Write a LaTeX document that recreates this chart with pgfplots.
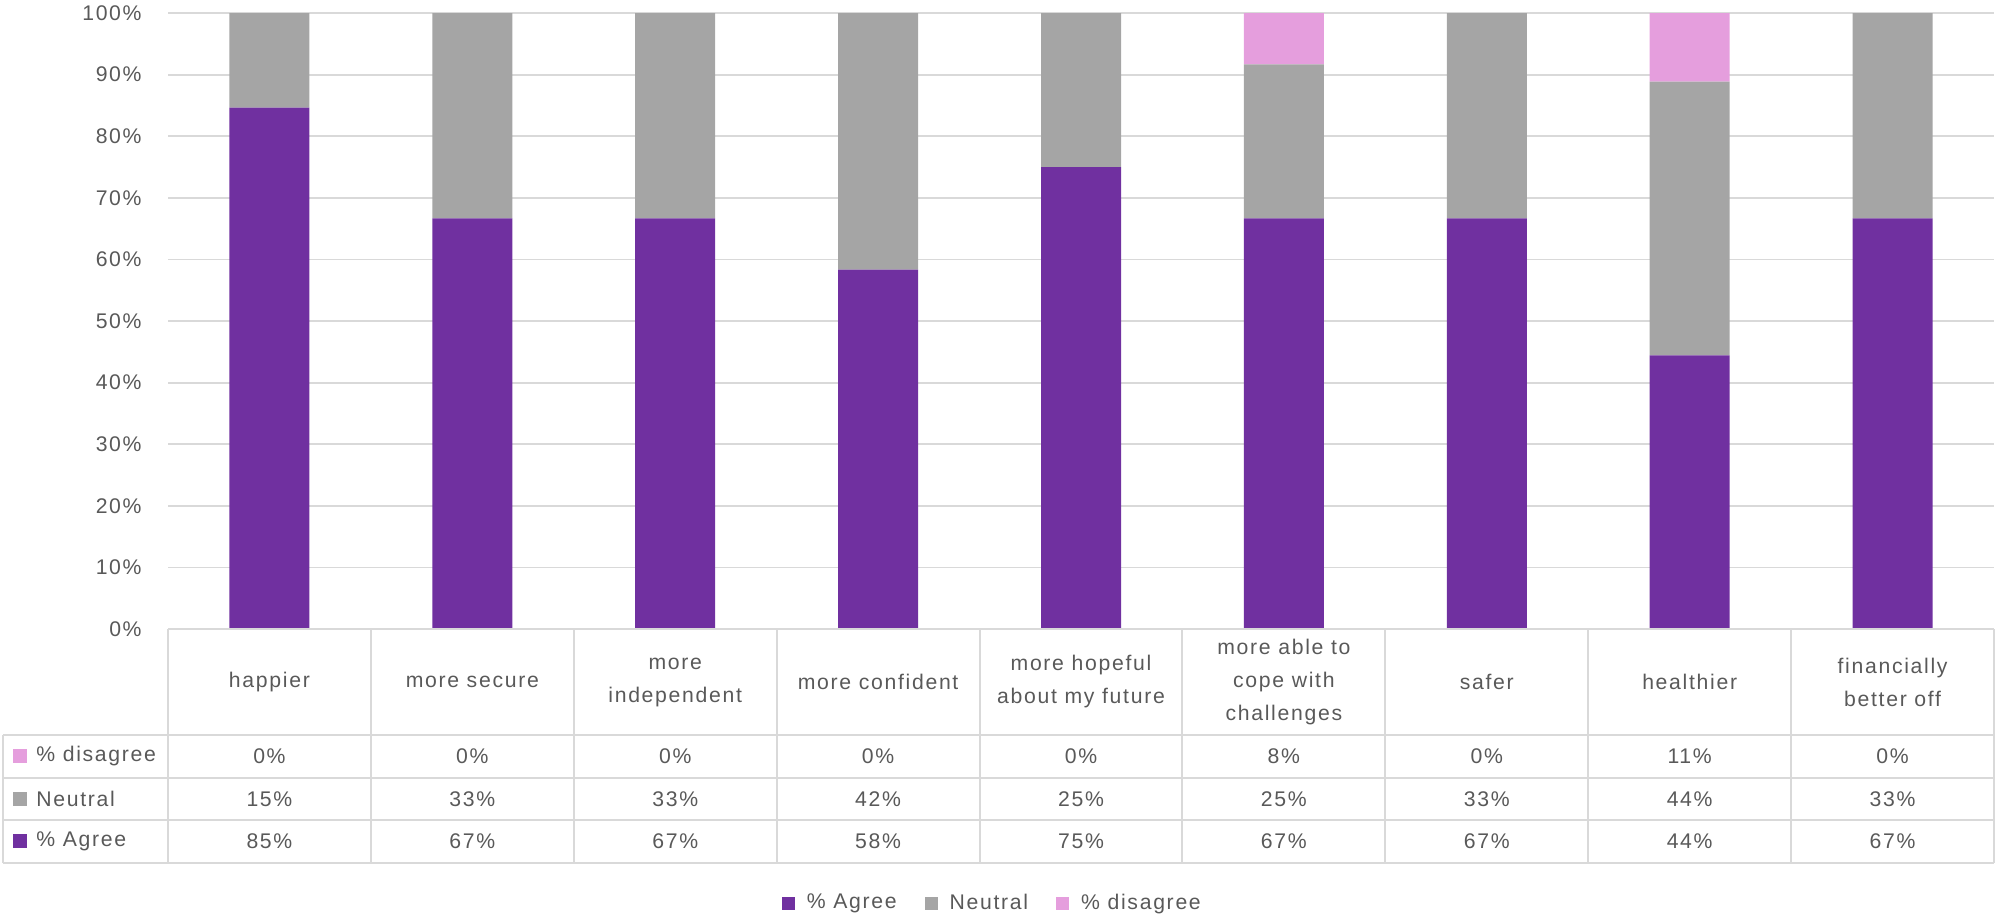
\documentclass[border=0pt]{standalone}
\usepackage{fontspec}
\setmainfont{Liberation Sans}[LetterSpace=8]
\usepackage{pgfplots}
\pgfplotsset{compat=1.18}
\definecolor{agree}{HTML}{7030A0}
\definecolor{neutral}{HTML}{A5A5A5}
\definecolor{disagree}{HTML}{E59EDD}
\definecolor{txt}{HTML}{595959}
\definecolor{gridc}{HTML}{D9D9D9}

\begin{document}
\begin{tikzpicture}[font=\fontsize{10.6}{16.5}\selectfont, text=txt]
\path[use as bounding box] (0,0) rectangle (998.5pt,459pt);
\begin{axis}[
  at={(84pt,144.5pt)}, anchor=south west,
  width=913pt, height=308pt, scale only axis,
  ybar stacked, bar width=40pt,
  xmin=-0.5, xmax=8.5, ymin=0, ymax=100,
  enlargelimits=false,
  axis line style={draw=none},
  xtick=\empty,
  ytick={0,10,...,100},
  yticklabels={0\%,10\%,20\%,30\%,40\%,50\%,60\%,70\%,80\%,90\%,100\%},
  major tick length=0pt,
  ymajorgrids, grid style={gridc, line width=0.9pt},
  yticklabel style={anchor=east, inner sep=0pt, xshift=-13pt, text=txt},
  legend style={at={(axis description cs:0.452,-0.4448)}, anchor=center,
    draw=none, fill=none, inner sep=0pt, text=txt,
    font=\fontsize{10.6}{12}\selectfont,
    /tikz/every odd column/.append style={column sep=4pt},
    /tikz/every even column/.append style={column sep=12pt}},
  legend columns=3,
  legend image code/.code={\fill[#1] (0pt,-3.25pt) rectangle (6.5pt,3.25pt);},
]
\addplot[fill=agree, draw=none] coordinates {(0,84.62) (1,66.67) (2,66.67) (3,58.33) (4,75) (5,66.67) (6,66.67) (7,44.44) (8,66.67)};
\addlegendentry{\% Agree}
\addplot[fill=neutral, draw=none] coordinates {(0,15.38) (1,33.33) (2,33.33) (3,41.67) (4,25) (5,25) (6,33.33) (7,44.44) (8,33.33)};
\addlegendentry{Neutral}
\addplot[fill=disagree, draw=none] coordinates {(0,0) (1,0) (2,0) (3,0) (4,0) (5,8.33) (6,0) (7,11.11) (8,0)};
\addlegendentry{\% disagree}
\end{axis}
\begin{scope}[x=0.5pt, y=-0.5pt, shift={(0pt,459pt)}]
  \draw[gridc, line width=1pt] (168,629) -- (1994,629);
  \foreach \yy in {735,777.5,820,862.5} \draw[gridc, line width=1pt] (3,\yy) -- (1994,\yy);
  \draw[gridc, line width=1pt] (3,735) -- (3,862.5);
  \foreach \k in {0,...,9} \draw[gridc, line width=1pt] ({168+202.89*\k},629) -- ({168+202.89*\k},862.5);
  \foreach \t [count=\i from 0] in {happier, more secure, {more\\independent}, more confident, {more hopeful\\about my future}, {more able to\\cope with\\challenges}, safer, healthier, {financially\\better off}}
    \node[align=center, inner sep=0pt] at ({168+202.89*(\i+0.5)},682) {\t};
  \foreach \v [count=\i from 0] in {0\%,0\%,0\%,0\%,0\%,8\%,0\%,11\%,0\%}
    \node[inner sep=0pt] at ({168+202.89*(\i+0.5)},756) {\v};
  \foreach \v [count=\i from 0] in {15\%,33\%,33\%,42\%,25\%,25\%,33\%,44\%,33\%}
    \node[inner sep=0pt] at ({168+202.89*(\i+0.5)},799) {\v};
  \foreach \v [count=\i from 0] in {85\%,67\%,67\%,58\%,75\%,67\%,67\%,44\%,67\%}
    \node[inner sep=0pt] at ({168+202.89*(\i+0.5)},841) {\v};
  \fill[disagree] (13,749) rectangle (27,763);
  \node[anchor=west, inner sep=0pt] at (36,756) {\% disagree};
  \fill[neutral] (13,792) rectangle (27,806);
  \node[anchor=west, inner sep=0pt] at (36,799) {Neutral};
  \fill[agree] (13,834) rectangle (27,848);
  \node[anchor=west, inner sep=0pt] at (36,841) {\% Agree};
\end{scope}
\end{tikzpicture}
\end{document}
